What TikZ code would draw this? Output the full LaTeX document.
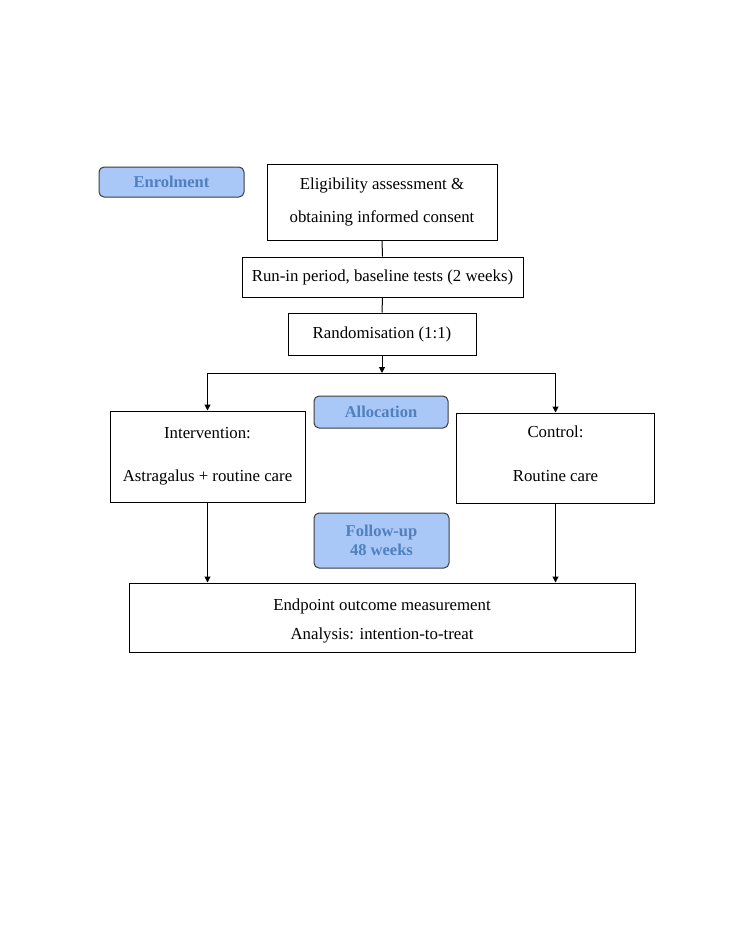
\documentclass[tikz,border=0pt]{standalone}
\usepackage{fontspec}
\setmainfont{Liberation Serif}
\usetikzlibrary{arrows.meta}
\definecolor{lblfill}{RGB}{169,199,247}
\definecolor{lbltext}{RGB}{80,128,190}
\definecolor{lbldraw}{RGB}{60,60,60}
\tikzset{
  box/.style={draw=black, line width=1pt, inner sep=0pt, align=center, fill=white},
  txt/.style={inner sep=0pt, align=center},
  lbl/.style={draw=lbldraw, line width=1pt, rounded corners=5pt, fill=lblfill, inner sep=0pt, align=center,
              text=lbltext, font=\fontsize{16.5}{19}\selectfont\bfseries},
  conn/.style={line width=1pt, draw=black},
  arr/.style={conn, -{Triangle[length=6pt,width=6pt]}}
}
\begin{document}
\begin{tikzpicture}[x=1pt,y=-1pt]
\useasboundingbox (0,0) rectangle (728,942);
\node[lbl, minimum width=145pt, minimum height=30pt] (enrol) at (171.5,182) {Enrolment};
\node[box, minimum width=230pt, minimum height=76pt, font=\fontsize{16.8}{33}\selectfont] (elig) at (382,202) {Eligibility assessment \&\\obtaining informed consent};
\node[box, minimum width=281pt, minimum height=40pt, font=\fontsize{16.8}{18}\selectfont] (runin) at (382.5,277) {Run-in period, baseline tests (2 weeks)};
\node[box, minimum width=188pt, minimum height=42pt, font=\fontsize{16.8}{18}\selectfont] (rand) at (382,334) {Randomisation (1:1)};
\coordinate (split) at (382,373);
\node[lbl, minimum width=134pt, minimum height=32pt] (alloc) at (381,412) {Allocation};
\node[box, minimum width=195pt, minimum height=91pt, font=\fontsize{16.8}{43}\selectfont] (interv) at (207.5,456.5) {Intervention:\\Astragalus + routine care};
\node[box, minimum width=198pt, minimum height=90pt, text depth=8pt, font=\fontsize{16.8}{44}\selectfont] (control) at (555.5,458) {Control:\\Routine care};
\node[lbl, minimum width=135pt, minimum height=55pt] (follow) at (381.5,540.5) {Follow-up\\48 weeks};
\node[box, minimum width=506pt, minimum height=69pt] (endp) at (382,617.5) {};
\node[txt, font=\fontsize{16.8}{29}\selectfont, yshift=-3pt] (endptxt) at (endp.center) {Endpoint outcome measurement\\Analysis: intention-to-treat};
\draw[conn] (elig.south) -- (runin.north);
\draw[conn] (runin.south) -- (rand.north);
\draw[arr] (rand.south) -- (split);
\draw[arr] (split) -- (split -| interv.north) -- (interv.north);
\draw[arr] (split) -- (split -| control.north) -- (control.north);
\draw[arr] (interv.south) -- (interv.south |- endp.north);
\draw[arr] (control.south) -- (control.south |- endp.north);
\end{tikzpicture}
\end{document}
